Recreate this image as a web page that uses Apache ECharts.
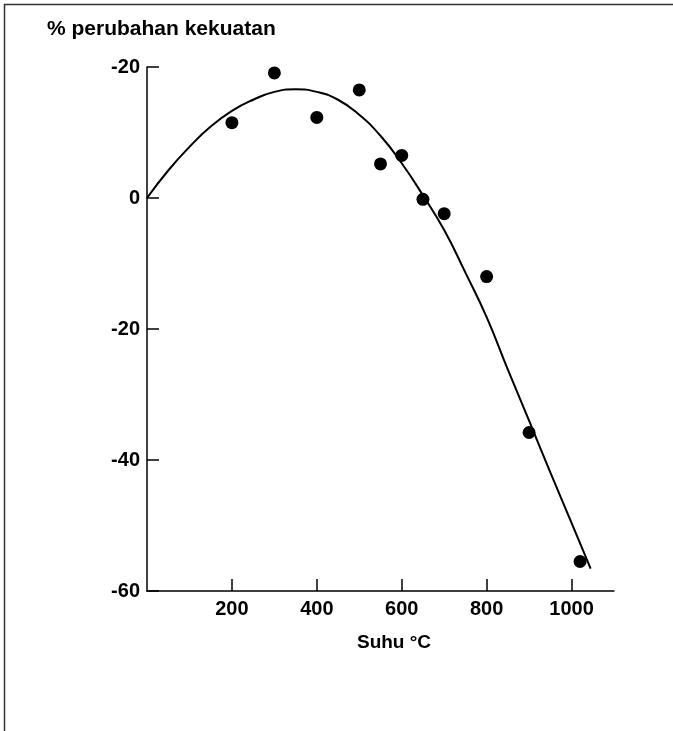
<!DOCTYPE html>
<html>
<head>
<meta charset="utf-8">
<script src="https://cdn.jsdelivr.net/npm/echarts@6/dist/echarts.min.js"></script>
<style>
  html, body { margin: 0; padding: 0; background: #fff; }
  #chart { width: 673px; height: 731px; }
</style>
</head>
<body>
<div id="chart"></div>
<script>
  // measured points
  var suhu = [200, 300, 400, 500, 550, 600, 650, 700, 800, 900, 1020];
  var perubahan = [11.5, 19.1, 12.3, 16.5, 5.2, 6.5, -0.2, -2.4, -12.0, -35.8, -55.5];

  // fitted curve
  var kurvaSuhu = [0, 50, 100, 150, 200, 250, 300, 350, 400, 450, 500, 550, 600, 650, 700, 750, 800, 850, 900, 950, 1000, 1045];
  var kurvaNilai = [0, 4.2, 7.8, 10.9, 13.3, 15.0, 16.2, 16.6, 16.2, 15.0, 12.7, 9.5, 5.3, 0.4, -4.9, -11.4, -18.2, -26.2, -34.0, -41.9, -49.6, -56.6];

  // y tick labels as printed (top one reads -20 in the original)
  var yTicks = [-60, -40, -20, 0, 20];
  var yTickLabels = ['-60', '-40', '-20', '0', '-20'];

  var titik = suhu.map(function (s, i) { return [s, perubahan[i]]; });
  var kurva = kurvaSuhu.map(function (s, i) { return [s, kurvaNilai[i]]; });

  var chart = echarts.init(document.getElementById('chart'));
  var option = {
    animation: false,
    backgroundColor: '#fff',
    grid: {
      left: 147,
      right: 59,
      top: 67,
      bottom: 140,
      containLabel: false
    },
    graphic: [
      { type: 'line', shape: { x1: 4.5, y1: 4, x2: 4.5, y2: 731 }, style: { stroke: '#333', lineWidth: 1.5 } },
      { type: 'line', shape: { x1: 4, y1: 4.5, x2: 673, y2: 4.5 }, style: { stroke: '#333', lineWidth: 1.5 } },
      {
        type: 'text', left: 47, top: 19,
        style: { text: '% perubahan kekuatan', font: 'bold 21px "Liberation Sans", Arial, sans-serif', fill: '#000' }
      },
      {
        type: 'text', x: 394, y: 643,
        style: {
          text: 'Suhu °C', font: 'bold 19px "Liberation Sans", Arial, sans-serif', fill: '#000',
          align: 'center', verticalAlign: 'middle'
        }
      }
    ],
    xAxis: {
      type: 'value',
      min: 0,
      max: 1100,
      interval: 200,
      axisLine: { onZero: false, lineStyle: { color: '#000', width: 1.5 } },
      axisTick: { inside: true, length: 12, lineStyle: { color: '#000', width: 1.5 } },
      axisLabel: {
        showMinLabel: false,
        showMaxLabel: false,
        margin: 8,
        color: '#000',
        fontSize: 20,
        fontWeight: 'bold',
        fontFamily: 'Liberation Sans',
        formatter: function (v) { return String(v); }
      },
      splitLine: { show: false }
    },
    yAxis: {
      type: 'value',
      min: -60,
      max: 20,
      interval: 20,
      axisLine: { show: true, onZero: false, lineStyle: { color: '#000', width: 1.5 } },
      axisTick: { show: true, inside: true, length: 12, lineStyle: { color: '#000', width: 1.5 } },
      axisLabel: {
        margin: 7,
        color: '#000',
        fontSize: 20,
        fontWeight: 'bold',
        fontFamily: 'Liberation Sans',
        formatter: function (v) {
          var i = yTicks.indexOf(v);
          return i >= 0 ? yTickLabels[i] : '';
        }
      },
      splitLine: { show: false }
    },
    series: [
      {
        name: 'kurva',
        type: 'line',
        data: kurva,
        smooth: true,
        symbol: 'none',
        lineStyle: { color: '#000', width: 2 },
        z: 2
      },
      {
        name: 'data',
        type: 'scatter',
        data: titik,
        symbol: 'circle',
        symbolSize: 13,
        itemStyle: { color: '#000', opacity: 1 },
        z: 3
      }
    ]
  };
  chart.setOption(option);
</script>
</body>
</html>
